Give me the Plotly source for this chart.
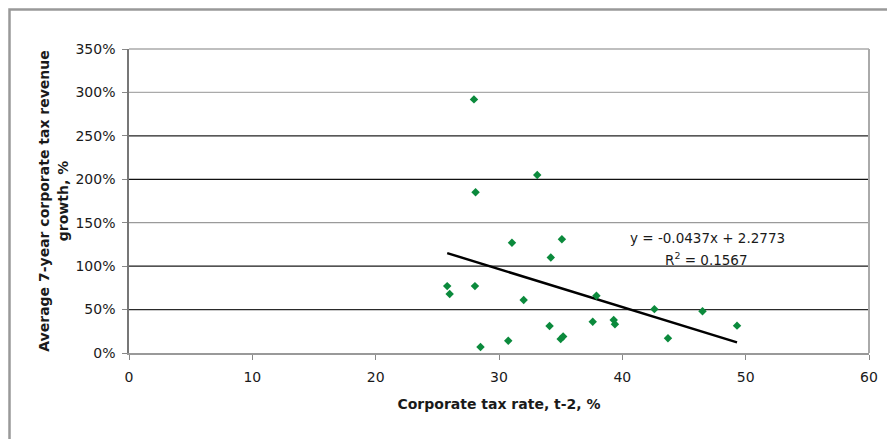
import plotly.graph_objects as go

# ---- data ----
tax_rate = [27.97, 28.1, 33.1, 31.05, 35.1, 34.2, 25.8, 26.0, 28.05, 32.0,
            37.9, 42.6, 46.5, 49.3, 28.5, 30.75, 34.1, 37.6, 39.3, 39.4,
            35.0, 35.2, 43.7]
growth = [2.92, 1.85, 2.05, 1.27, 1.31, 1.10, 0.77, 0.68, 0.77, 0.61,
          0.66, 0.505, 0.48, 0.315, 0.07, 0.14, 0.31, 0.36, 0.38, 0.33,
          0.16, 0.19, 0.17]
slope = -0.0437
intercept = 2.2773
r_squared = 0.1567

y_ticks = [0, 0.5, 1.0, 1.5, 2.0, 2.5, 3.0, 3.5]
x_ticks = [0, 10, 20, 30, 40, 50, 60]
grid_values = [0.5, 1.0, 1.5, 2.0, 2.5, 3.0]
grid_colors = ["#2a2a2a", "#1a1a1a", "#9a9a9a", "#111111", "#222222", "#aaaaaa"]

# ---- geometry (page has an 8px body margin) ----
OFF = 8
W, H = 895 - OFF, 439 - OFF
L, R, T, B = 129 - OFF, 26, 49 - OFF, 86
pw, ph = W - L - R, H - T - B

def px_to_paper_x(px):
    return (px - OFF - L) / pw

def px_to_paper_y(py):
    return (H - B - (py - OFF)) / ph

font_family = "DejaVu Sans"
text_color = "#1a1a1a"
marker_color = "#0b8a3c"

fig = go.Figure()

# trend line over the data range
x0, x1 = min(tax_rate), max(tax_rate)
fig.add_trace(go.Scatter(
    x=[x0, x1], y=[slope * x0 + intercept, slope * x1 + intercept],
    mode="lines", line=dict(color="black", width=2.5),
    showlegend=False, hoverinfo="skip"))

fig.add_trace(go.Scatter(
    x=tax_rate, y=growth, mode="markers",
    marker=dict(symbol="diamond", size=6.5, color=marker_color),
    showlegend=False))

shapes = []
for gv, gc in zip(grid_values, grid_colors):
    shapes.append(dict(type="line", xref="x domain", yref="y",
                       x0=0, x1=1, y0=gv, y1=gv,
                       line=dict(color=gc, width=1.2), layer="below"))
# plot-area border (top / right)
shapes.append(dict(type="line", xref="x domain", yref="y domain",
                   x0=0, x1=1, y0=1, y1=1, line=dict(color="#aaaaaa", width=1.5)))
shapes.append(dict(type="line", xref="x domain", yref="y domain",
                   x0=1, x1=1, y0=0, y1=1, line=dict(color="#aaaaaa", width=2)))
# outer chart border (at the figure's own edge)
shapes.append(dict(type="rect", xref="paper", yref="paper",
                   x0=px_to_paper_x(OFF + 1.5), x1=px_to_paper_x(895 + 10),
                   y0=px_to_paper_y(439 + 10), y1=px_to_paper_y(OFF + 1.5),
                   line=dict(color="#999999", width=2.5), fillcolor="rgba(0,0,0,0)"))

eq_line = f"y = {slope}x + {intercept}"
r2_line = f"R<sup>2</sup> = {r_squared}"

fig.update_layout(
    width=W, height=H,
    margin=dict(l=L, r=R, t=T, b=B, pad=0),
    paper_bgcolor="white", plot_bgcolor="white",
    font=dict(family=font_family, size=14, color=text_color),
    shapes=shapes,
    annotations=[
        dict(x=px_to_paper_x(707), y=px_to_paper_y(238), xref="paper", yref="paper",
             text=eq_line, showarrow=False, xanchor="center", yanchor="middle",
             font=dict(family=font_family, size=13.5, color=text_color)),
        dict(x=px_to_paper_x(706), y=px_to_paper_y(259), xref="paper", yref="paper",
             text=r2_line, showarrow=False, xanchor="center", yanchor="middle",
             font=dict(family=font_family, size=13.5, color=text_color)),
    ],
    xaxis=dict(
        range=[0, 60], tickvals=x_ticks, ticks="outside", ticklen=5,
        tickcolor="#888888", showline=True, linecolor="#999999", linewidth=1.5,
        showgrid=False, zeroline=False, tickfont=dict(size=14),
        ticklabelstandoff=5,
        title=dict(text="<b>Corporate tax rate, t-2, %</b>",
                   font=dict(size=14), standoff=16)),
    yaxis=dict(
        range=[0, 3.5], tickvals=y_ticks, tickformat=".0%", ticks="outside",
        ticklen=5, tickcolor="#888888", showline=True, linecolor="#777777",
        linewidth=1.5, showgrid=False, zeroline=False, tickfont=dict(size=14),
        ticklabelstandoff=4,
        title=dict(text="<b>Average 7-year corporate tax revenue<br>growth, %</b>",
                   font=dict(size=14), standoff=4)),
)

fig.write_html("out.html")
